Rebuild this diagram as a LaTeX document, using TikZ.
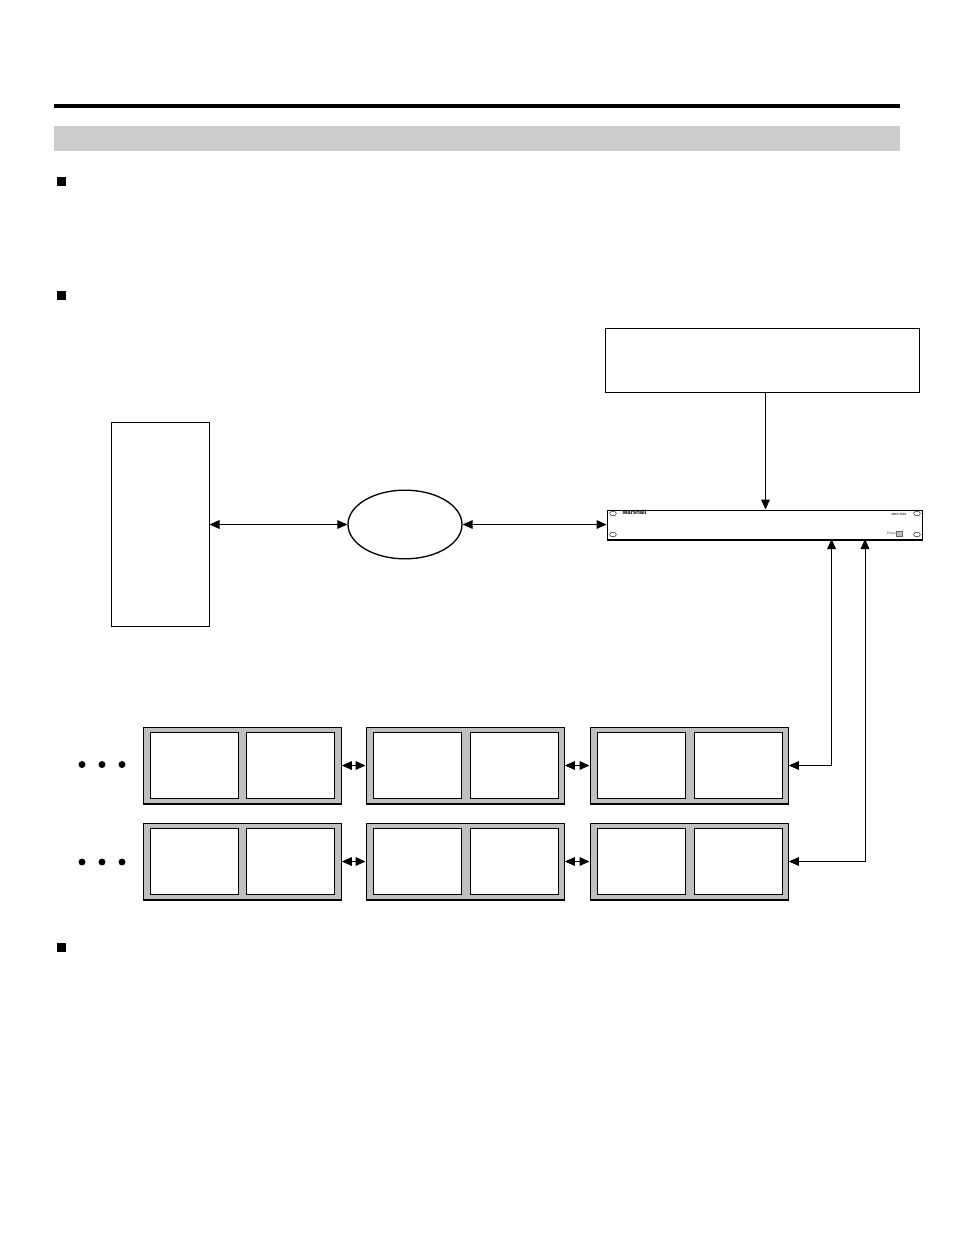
\documentclass[tikz,border=0pt]{standalone}
\usepackage{fontspec}
\setmainfont{Liberation Sans}
\usetikzlibrary{arrows.meta,shapes.geometric}
\definecolor{bandgray}{HTML}{CCCCCC}
\definecolor{panelgray}{HTML}{C0C0C0}
\tikzset{
  x=0.75pt,y=-0.75pt,
  box/.style={draw=black,fill=white,line width=0.75pt,inner sep=0,anchor=north west},
  bullet/.style={fill=black,inner sep=0,minimum size=6.5pt,anchor=center},
  dotmark/.style={circle,fill=black,inner sep=0,minimum size=5.2pt},
  panel/.style={draw=black,fill=panelgray,line width=1pt,inner sep=0,minimum width=148.5pt,minimum height=57.5pt,anchor=north west},
  screen/.style={draw=black,fill=white,line width=1pt,inner sep=0,minimum width=66pt,minimum height=49.5pt,anchor=north west},
  conn/.style={draw=black,line width=0.75pt,{Triangle[length=7.5pt,width=6.5pt]}-{Triangle[length=7.5pt,width=6.5pt]}},
  conn1/.style={draw=black,line width=0.75pt,-{Triangle[length=7.5pt,width=6.5pt]}},
  hole/.style={ellipse,draw=black,line width=0.3pt,inner sep=0,minimum width=5pt,minimum height=3.5pt},
}
\begin{document}
\begin{tikzpicture}
\useasboundingbox (0,0) rectangle (954,1235);
\fill[white] (0,0) rectangle (954,1235);
% header
\fill[black] (54,104) rectangle (900,108);
\fill[bandgray] (54,126) rectangle (900,151);
\node[bullet] (b1) at (61.5,181.5) {};
\node[bullet] (b2) at (61.5,295.5) {};
\node[bullet] (b3) at (61.5,947.5) {};
% upper boxes
\node[box,minimum width=236pt,minimum height=48pt] (top) at (604.5,327.5) {};
\node[box,minimum width=73.5pt,minimum height=153pt] (left) at (110.5,421.5) {};
\node[ellipse,draw=black,fill=white,line width=1pt,inner sep=0,minimum width=85.5pt,minimum height=51.5pt] (cloud) at (405,524.5) {};
% device
\node[box,line width=1pt,minimum width=236.5pt,minimum height=22pt] (dev) at (606.5,509.5) {};
\draw[black,line width=1.5pt] (dev.south west) -- (dev.south east);
\node[hole] (h1) at (613,513.5) {};
\node[hole] (h2) at (613,534.5) {};
\node[hole] (h3) at (917,513.5) {};
\node[hole] (h4) at (917,534.5) {};
\node[font=\bfseries\fontsize{4.4pt}{5pt}\selectfont,inner sep=0] (brand) at (634.5,512.5) {Marshall};
\node[font=\bfseries\fontsize{2.3pt}{3pt}\selectfont,inner sep=0,text=black!75] (model) at (899,514.5) {MDS-5000};
\node[font=\fontsize{2.6pt}{3pt}\selectfont,inner sep=0,text=black!70] (pw) at (892,533.5) {Power};
\node[draw=black!60,fill=black!25,line width=0.3pt,inner sep=0,minimum width=4.5pt,minimum height=3.5pt] (pwb) at (899.5,533.5) {};
% panels row 1
\node[panel] (p1) at (142.5,726.5) {};
\node[panel] (p2) at (365.5,726.5) {};
\node[panel] (p3) at (589.5,726.5) {};
\node[screen] (s11) at (149.5,731.5) {};
\node[screen] (s12) at (245.5,731.5) {};
\node[screen] (s21) at (372.5,731.5) {};
\node[screen] (s22) at (469.5,731.5) {};
\node[screen] (s31) at (596.5,731.5) {};
\node[screen] (s32) at (693.5,731.5) {};
% panels row 2
\node[panel] (q1) at (142.5,822.5) {};
\node[panel] (q2) at (365.5,822.5) {};
\node[panel] (q3) at (589.5,822.5) {};
\node[screen] (t11) at (149.5,827.5) {};
\node[screen] (t12) at (245.5,827.5) {};
\node[screen] (t21) at (372.5,827.5) {};
\node[screen] (t22) at (469.5,827.5) {};
\node[screen] (t31) at (596.5,827.5) {};
\node[screen] (t32) at (693.5,827.5) {};
% dots
\foreach \n/\px/\py in {a/82/764.5,b/102/764.5,c/122/764.5,d/82/862,e/102/862,f/122/862}
  \node[dotmark] (dot\n) at (\px,\py) {};
% connectors
\draw[conn1] (top.south -| 765.5,0) -- (dev.north -| 765.5,0);
\draw[conn] (left.east |- cloud.west) -- (cloud.west);
\draw[conn] (cloud.east) -- (dev.west |- cloud.east);
\draw[conn] (p1.east) -- (p2.west);
\draw[conn] (p2.east) -- (p3.west);
\draw[conn] (q1.east) -- (q2.west);
\draw[conn] (q2.east) -- (q3.west);
\coordinate (r1) at (831.5,765.5);
\coordinate (d1) at (831.5,539);
\coordinate (r2) at (865,861.5);
\coordinate (d2) at (865,539);
\draw[conn] (p3.east |- r1) -- (r1) -- (d1);
\draw[conn] (q3.east |- r2) -- (r2) -- (d2);
\end{tikzpicture}
\end{document}
